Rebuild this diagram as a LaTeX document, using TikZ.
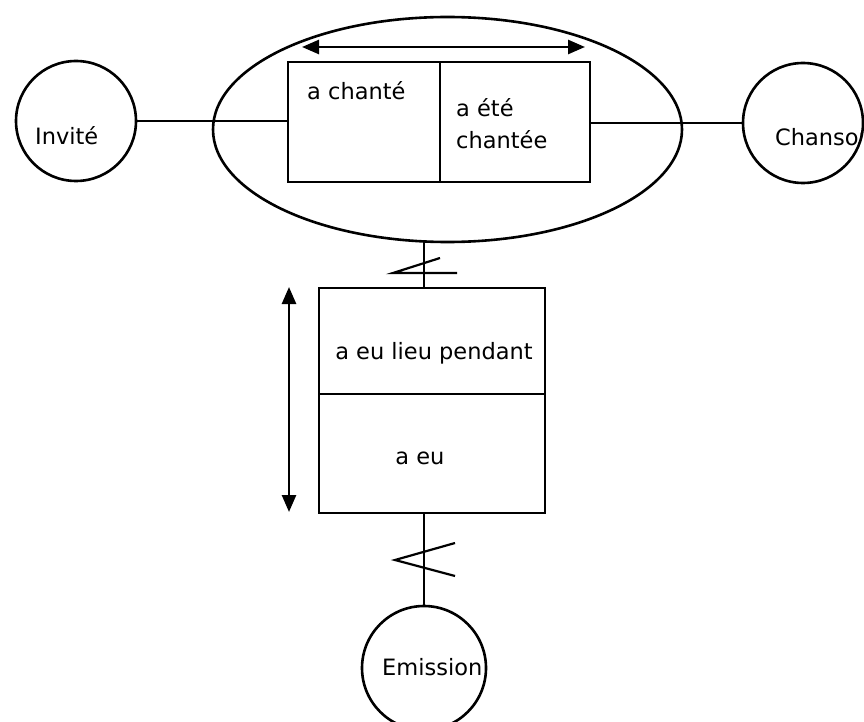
\documentclass[tikz,border=0pt]{standalone}
\usepackage{fontspec}
\setmainfont{DejaVu Sans}
\usetikzlibrary{shapes.geometric,arrows.meta}
\tikzset{
  ln/.style={line width=2.2pt},
  circ/.style={draw,circle,line width=2.6pt,minimum size=120pt,inner sep=0pt},
  cell/.style={draw,rectangle,line width=2.6pt,inner sep=0pt},
  lbl/.style={font=\fontsize{22.5}{26}\selectfont,inner sep=0pt},
  dbl/.style={line width=2.6pt,{Triangle[length=17pt,width=14pt]}-{Triangle[length=17pt,width=14pt]}},
}
\begin{document}
\begin{tikzpicture}[x=1pt,y=-1pt]
\useasboundingbox (0,0) rectangle (864,722);
\clip (0,0) rectangle (864,722);
% main ellipse
\node[draw,ellipse,line width=2.6pt,minimum width=469pt,minimum height=225pt,inner sep=0pt] (ell) at (447.5,129.5) {};
% top cells
\node[cell,minimum width=152pt,minimum height=120pt] (cA) at (364,122) {};
\node[cell,minimum width=150pt,minimum height=120pt] (cB) at (515,122) {};
\node[lbl,anchor=base west] (tA) at (307,100) {a chanté};
\node[lbl,anchor=base west] (tB1) at (456,117) {a été};
\node[lbl,anchor=base west] (tB2) at (456,149) {chantée};
% top double arrow
\coordinate (aL) at (302,47);
\coordinate (aR) at (585,47);
\draw[dbl] (aL) -- (aR);
% side circles
\node[circ] (inv) at (76,121) {};
\node[circ] (cha) at (803,123) {};
\node[lbl,anchor=base west] (tInv) at (35,145) {Invité};
\begin{scope}
  \clip (cha.center) circle (59pt);
  \node[lbl,anchor=base west] (tCha) at (775,146) {Chanson};
\end{scope}
\draw[ln] (inv.east) -- (inv.east -| cA.west);
\draw[ln] (cB.east |- cha.west) -- (cha.west);
% lower box
\node[cell,minimum width=226pt,minimum height=106pt] (cC) at (432,341) {};
\node[cell,minimum width=226pt,minimum height=119pt] (cD) at (432,453.5) {};
\node[lbl,anchor=base] (tC) at (434,359) {a eu lieu pendant};
\node[lbl,anchor=base] (tD) at (420,464) {a eu};
% left double arrow
\coordinate (vT) at (289,287);
\coordinate (vB) at (289,512);
\draw[dbl] (vT) -- (vB);
% connector ellipse -> box
\coordinate (j1) at (424,241.5);
\draw[ln] (j1) -- (j1 |- cC.north);
\coordinate (z1) at (440,258);
\coordinate (z2) at (393,273);
\coordinate (z3) at (457,273);
\draw[ln] (z1) -- (z2) -- (z3);
% emission
\node[circ,minimum size=124pt] (emi) at (424,668) {};
\begin{scope}
  \clip (emi.center) circle (61pt);
  \node[lbl,anchor=base west] (tEmi) at (382,675) {Emission};
\end{scope}
\draw[ln] (cD.south -| emi.north) -- (emi.north);
\coordinate (z4) at (455,543);
\coordinate (z5) at (395,560);
\coordinate (z6) at (455,576);
\draw[ln] (z4) -- (z5) -- (z6);
\end{tikzpicture}
\end{document}
